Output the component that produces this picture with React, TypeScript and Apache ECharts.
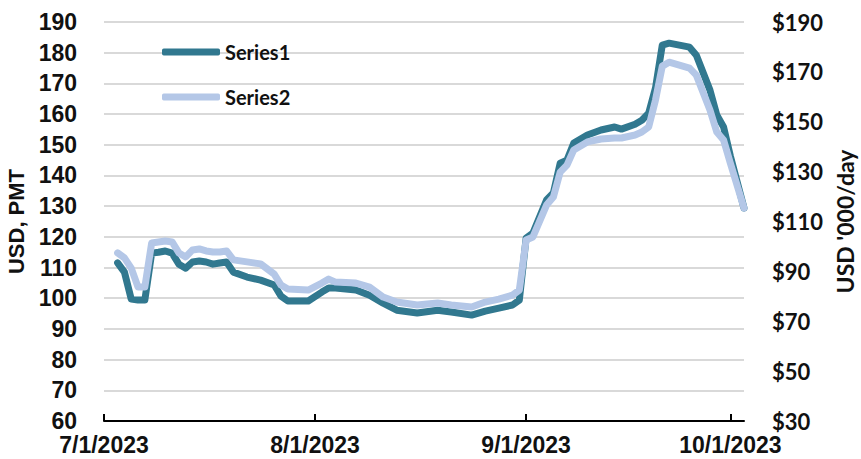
import React, { useEffect, useRef } from "react";
import * as echarts from "echarts";

const dates = [
  "7/3/2023", "7/4/2023", "7/5/2023", "7/6/2023", "7/7/2023", "7/8/2023", "7/9/2023", "7/10/2023",
  "7/11/2023", "7/12/2023", "7/13/2023", "7/14/2023", "7/15/2023", "7/16/2023", "7/17/2023", "7/18/2023",
  "7/19/2023", "7/20/2023", "7/22/2023", "7/24/2023", "7/26/2023", "7/27/2023", "7/28/2023", "7/31/2023",
  "8/2/2023", "8/3/2023", "8/4/2023", "8/7/2023", "8/9/2023", "8/11/2023", "8/13/2023", "8/16/2023",
  "8/19/2023", "8/21/2023", "8/24/2023", "8/26/2023", "8/28/2023", "8/30/2023", "8/31/2023",
  "9/1/2023", "9/2/2023", "9/4/2023", "9/5/2023", "9/6/2023", "9/7/2023", "9/8/2023", "9/10/2023",
  "9/12/2023", "9/14/2023", "9/15/2023", "9/17/2023", "9/18/2023", "9/19/2023", "9/20/2023", "9/21/2023",
  "9/22/2023", "9/25/2023", "9/26/2023", "9/28/2023", "9/29/2023", "9/30/2023", "10/1/2023", "10/3/2023",
];

// Series1, USD/PMT (left axis)
const series1 = [
  111.5, 108.5, 99.7, 99.4, 99.4, 114.7, 115.0, 115.4, 114.7, 111.1, 109.8, 111.8, 112.1, 111.8, 111.1, 111.5, 111.8,
  108.5, 106.9, 105.9, 104.3, 100.7, 99.1, 99.1,
  102.0, 103.3, 103.3, 102.7, 101.0, 98.4, 96.1, 95.2, 96.1, 95.5, 94.5, 95.8, 96.8, 97.8, 99.4,
  119.6, 121.2, 132.0, 134.3, 144.0, 145.0, 150.6, 153.2, 154.8, 155.8, 155.1, 156.7, 158.0, 160.3, 168.5, 182.5,
  183.1, 181.8, 179.2, 167.8, 159.7, 155.8,
  146.3, 129.4,
];

// Series2, USD '000/day (right axis)
const series2 = [
  97.4, 95.4, 91.3, 83.7, 83.7, 101.4, 101.8, 102.2, 101.8, 97.4, 95.8, 98.6, 99.0, 98.2, 97.8, 97.8, 98.2,
  94.6, 93.8, 93.0, 88.9, 84.5, 82.9, 82.5,
  85.3, 86.9, 85.7, 85.3, 83.7, 79.7, 77.7, 76.5, 77.3, 76.5, 75.7, 77.7, 78.9, 80.5, 82.5,
  102.6, 103.8, 116.6, 119.8, 129.8, 132.6, 138.7, 141.9, 143.1, 143.5, 143.5, 144.7, 145.9, 147.9, 158.7, 172.3,
  173.9, 171.5, 168.7, 154.7, 145.9, 142.7,
  133.4, 115.4,
];

const xTickLabels = ["7/1/2023", "8/1/2023", "9/1/2023", "10/1/2023"];
const xMaxDate = "10/3/2023";
const seriesNames = ["Series1", "Series2"];

function parseDate(s: string): number {
  const [m, d, y] = s.split("/").map(Number);
  return new Date(y, m - 1, d).getTime();
}

function fmtDate(v: number): string {
  const d = new Date(v);
  return `${d.getMonth() + 1}/${d.getDate()}/${d.getFullYear()}`;
}

export default function App() {
  const ref = useRef<HTMLDivElement>(null);

  useEffect(() => {
    if (!ref.current) return;
    const chart = echarts.init(ref.current, undefined, { renderer: "svg" });
    const tickVals = xTickLabels.map(parseDate);
    const arial = "'Liberation Sans', Arial, sans-serif";
    const cal = "Lato, 'Open Sans', sans-serif";

    chart.setOption({
      animation: false,
      backgroundColor: "#ffffff",
      grid: { left: 104, right: 117, top: 22, bottom: 38, containLabel: false, outerBoundsMode: "none" },
      legend: {
        orient: "vertical",
        left: 162,
        top: 42,
        padding: 0,
        icon: "roundRect",
        itemWidth: 58,
        itemHeight: 7,
        itemGap: 25,
        textStyle: { fontFamily: cal, fontSize: 20, color: "#111", lineHeight: 20, fontWeight: "bold" },
        data: seriesNames,
      },
      xAxis: {
        type: "value",
        min: parseDate(xTickLabels[0]),
        max: parseDate(xMaxDate),
        axisLine: { show: true, lineStyle: { color: "#000", width: 2 } },
        axisTick: { show: true, inside: true, length: 7, lineStyle: { color: "#000", width: 2 }, customValues: tickVals },
        axisLabel: {
          customValues: tickVals,
          formatter: (v: number) => fmtDate(v),
          fontFamily: arial,
          fontWeight: "bold",
          fontSize: 23,
          color: "#111",
          margin: 12,
        },
        splitLine: { show: false },
      },
      yAxis: [
        {
          type: "value",
          min: 60,
          max: 190,
          interval: 10,
          position: "left",
          name: "USD, PMT",
          nameLocation: "middle",
          nameRotate: 90,
          nameGap: 67,
          nameTextStyle: { fontFamily: arial, fontWeight: "bold", fontSize: 22, color: "#111" },
          axisLine: { show: false },
          axisTick: { show: false },
          axisLabel: { fontFamily: arial, fontWeight: "bold", fontSize: 23, color: "#111", margin: 27 },
          splitLine: { show: true, lineStyle: { color: "#d9d9d9", width: 2 } },
        },
        {
          type: "value",
          min: 30,
          max: 190,
          interval: 20,
          position: "right",
          name: "USD '000/day",
          nameLocation: "middle",
          nameRotate: 90,
          nameGap: 85,
          nameTextStyle: { fontFamily: cal, fontWeight: "bold", fontSize: 23, color: "#111" },
          axisLine: { show: false },
          axisTick: { show: false },
          axisLabel: {
            fontFamily: cal,
            fontWeight: "bold",
            fontSize: 22,
            color: "#111",
            margin: 28,
            formatter: (v: number) => "$" + v,
          },
          splitLine: { show: false },
        },
      ],
      series: [
        {
          name: seriesNames[0],
          type: "line",
          yAxisIndex: 0,
          symbol: "none",
          data: dates.map((d, i) => [parseDate(d), series1[i]]),
          lineStyle: { color: "#31788f", width: 7, cap: "round", join: "round" },
          itemStyle: { color: "#31788f" },
        },
        {
          name: seriesNames[1],
          type: "line",
          yAxisIndex: 1,
          symbol: "none",
          data: dates.map((d, i) => [parseDate(d), series2[i]]),
          lineStyle: { color: "#b4c7e7", width: 7, cap: "round", join: "round" },
          itemStyle: { color: "#b4c7e7" },
        },
      ],
    });

    return () => chart.dispose();
  }, []);

  return (
    <div
      ref={ref}
      style={{ position: "absolute", left: 0, top: 0, width: 861, height: 459 }}
    />
  );
}
